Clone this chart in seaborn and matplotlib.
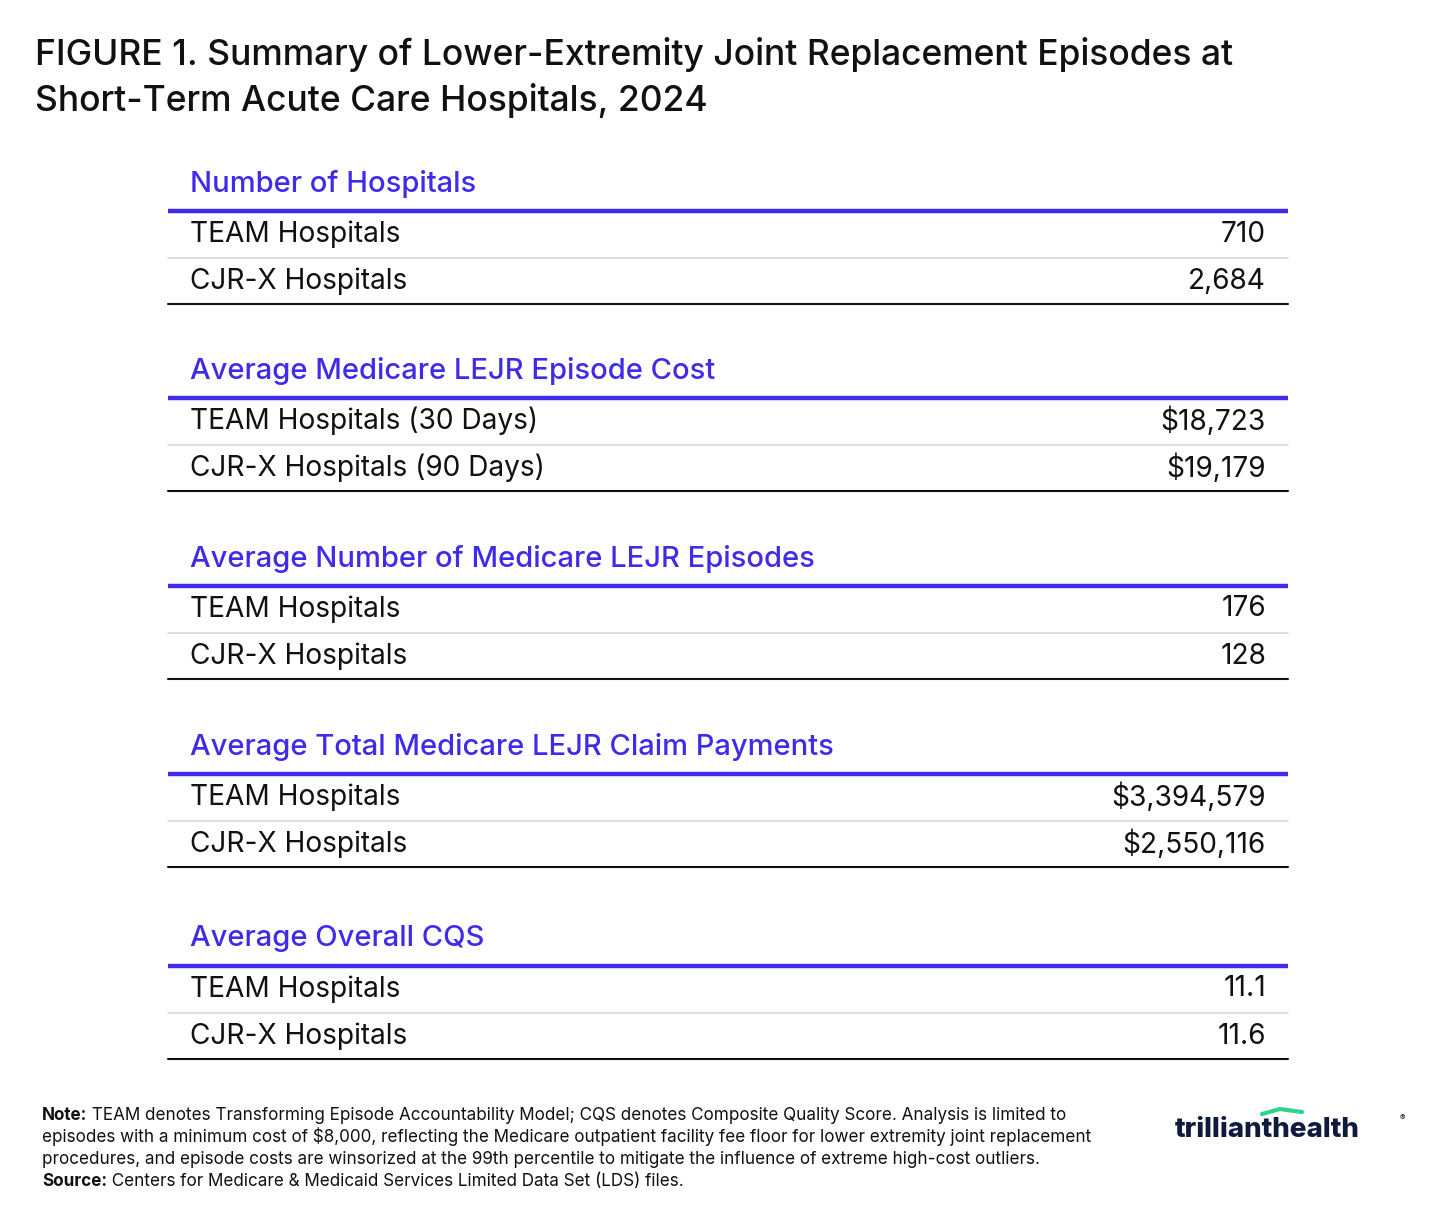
import matplotlib
matplotlib.use("Agg")
import matplotlib.pyplot as plt
import seaborn as sns

sns.set_theme(style="white")
plt.rcParams['font.family'] = ['Inter', 'DejaVu Sans']

title_lines = ["FIGURE 1. Summary of Lower-Extremity Joint Replacement Episodes at",
               "Short-Term Acute Care Hospitals, 2024"]
sections = ["Number of Hospitals", "Average Medicare LEJR Episode Cost",
            "Average Number of Medicare LEJR Episodes",
            "Average Total Medicare LEJR Claim Payments", "Average Overall CQS"]
row_labels = [["TEAM Hospitals", "CJR-X Hospitals"],
              ["TEAM Hospitals (30 Days)", "CJR-X Hospitals (90 Days)"],
              ["TEAM Hospitals", "CJR-X Hospitals"],
              ["TEAM Hospitals", "CJR-X Hospitals"],
              ["TEAM Hospitals", "CJR-X Hospitals"]]
row_values = [["710", "2,684"], ["$18,723", "$19,179"], ["176", "128"],
              ["$3,394,579", "$2,550,116"], ["11.1", "11.6"]]
note_lines = [
    ("Note:", " TEAM denotes Transforming Episode Accountability Model; CQS denotes Composite Quality Score. Analysis is limited to"),
    ("", "episodes with a minimum cost of $8,000, reflecting the Medicare outpatient facility fee floor for lower extremity joint replacement"),
    ("", "procedures, and episode costs are winsorized at the 99th percentile to mitigate the influence of extreme high-cost outliers."),
    ("Source:", " Centers for Medicare & Medicaid Services Limited Data Set (LDS) files."),
]

W, H = 1456, 1228
fig = plt.figure(figsize=(W / 100, H / 100), dpi=100)
ax = fig.add_axes([0, 0, 1, 1])
ax.set_xlim(0, W); ax.set_ylim(H, 0); ax.axis("off")

purple = "#3F2BE8"; dark = "#111111"
for i, t in enumerate(title_lines):
    ax.text(35, 55 + i * 46, t, fontsize=25.5, fontweight="medium", color=dark, va="center", ha="left")

header_y = [184, 371, 559, 747, 939]
x0, x1 = 168, 1288
for s, hy in enumerate(header_y):
    ax.text(190, hy, sections[s], fontsize=21, fontweight="medium", color=purple, va="center", ha="left")
    ax.plot([x0, x1], [hy + 27, hy + 27], color=purple, lw=3.2, solid_capstyle="butt")
    for r in range(2):
        ry = hy + 50 + r * 47
        ax.text(190, ry, row_labels[s][r], fontsize=20.2, color=dark, va="center", ha="left")
        ax.text(1266, ry, row_values[s][r], fontsize=20.2, color=dark, va="center", ha="right")
    ax.plot([x0, x1], [hy + 74, hy + 74], color="#D8D8D8", lw=1.2)
    ax.plot([x0, x1], [hy + 120, hy + 120], color=dark, lw=1.5)

for i, (b, rest) in enumerate(note_lines):
    y = 1115 + i * 22
    if b:
        t = ax.text(42, y, b, fontsize=12.3, fontweight="bold", color=dark, va="center")
        fig.canvas.draw()
        bb = t.get_window_extent()
        ax.text(bb.x1, y, rest, fontsize=12.3, color=dark, va="center")
    else:
        ax.text(42, y, rest, fontsize=12.3, color=dark, va="center")

ax.text(1175, 1130, "trillianthealth", fontsize=20, fontweight="heavy", color="#0E1B3D", va="center")
ax.text(1400, 1118, "®", fontsize=6, color="#0E1B3D", va="center")
ax.plot([1262, 1280, 1302], [1114, 1109, 1112], color="#2BD68A", lw=3)

fig.savefig("out.png", dpi=100, facecolor="white")
